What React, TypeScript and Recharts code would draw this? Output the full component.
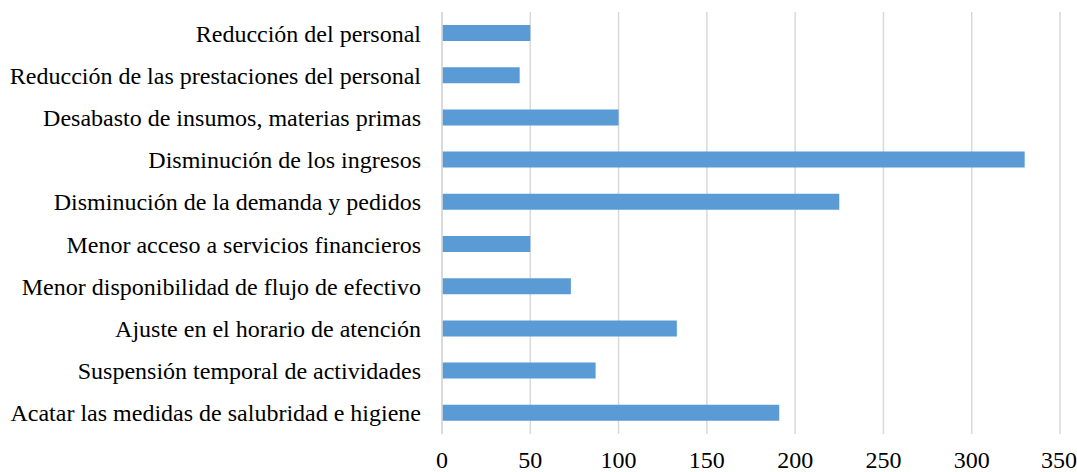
import { BarChart, Bar, XAxis, YAxis, CartesianGrid } from 'recharts';

const categorias = [
    'Reducción del personal',
    'Reducción de las prestaciones del personal',
    'Desabasto de insumos, materias primas',
    'Disminución de los ingresos',
    'Disminución de la demanda y pedidos',
    'Menor acceso a servicios financieros',
    'Menor disponibilidad de flujo de efectivo',
    'Ajuste en el horario de atención',
    'Suspensión temporal de actividades',
    'Acatar las medidas de salubridad e higiene',
];

const valores = [50, 44, 100, 330, 225, 50, 73, 133, 87, 191];

const ticksX = [0, 50, 100, 150, 200, 250, 300, 350];

const data = categorias.map((nombre, i) => ({ nombre, valor: valores[i] }));

const fuente = 'Liberation Serif';

export default function App() {
    return (
        <div style={{ position: 'absolute', left: 0, top: 0, fontFamily: fuente }}>
            <BarChart
                width={1077}
                height={472}
                data={data}
                layout="vertical"
                margin={{ top: 12, right: 17, bottom: 0, left: 0 }}
                style={{ fontFamily: fuente }}
            >
                <CartesianGrid horizontal={false} stroke="#d9d9d9" strokeWidth={1.5} />
                <XAxis
                    type="number"
                    domain={[0, 350]}
                    ticks={ticksX}
                    axisLine={false}
                    tickLine={false}
                    height={38}
                    tickMargin={11}
                    tick={{ fill: '#000', fontSize: 24, fontFamily: fuente }}
                />
                <YAxis
                    type="category"
                    dataKey="nombre"
                    width={442}
                    axisLine={{ stroke: '#d9d9d9', strokeWidth: 1.5 }}
                    tickLine={false}
                    tickMargin={15}
                    interval={0}
                    tick={{ fill: '#000', fontSize: 24, fontFamily: fuente }}
                />
                <Bar dataKey="valor" fill="#5b9bd5" barSize={16} isAnimationActive={false} />
            </BarChart>
        </div>
    );
}
